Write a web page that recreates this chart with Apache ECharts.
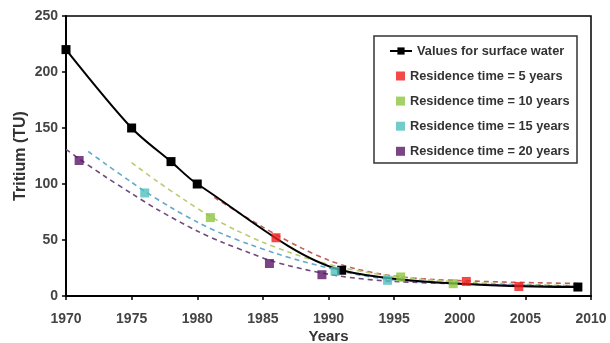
<!DOCTYPE html>
<html><head><meta charset="utf-8">
<script src="https://cdn.jsdelivr.net/npm/echarts@6/dist/echarts.min.js"></script>
<style>html,body{margin:0;padding:0;background:#fff}#c{width:610px;height:343px}</style>
</head><body><div id="c"></div>
<script>
// ---- data ----
const surfaceYears = [1970, 1975, 1978, 1980, 1991, 2009];
const surfaceValues = [220, 150, 120, 100, 23, 8];

const rt5Years = [1986, 2000.5, 2004.5];
const rt5Values = [52, 13, 8.5];
const rt10Years = [1981, 1995.5, 1999.5];
const rt10Values = [70, 17, 11];
const rt15Years = [1976, 1990.5, 1994.5];
const rt15Values = [92, 22, 14];
const rt20Years = [1971, 1985.5, 1989.5];
const rt20Values = [121, 29, 19];

// model curves (dashed)
const rt5CurveYears = [1981.3, 1983, 1985, 1986, 1988, 1990, 1992, 1994, 1996, 1998, 2000, 2003, 2006, 2009];
const rt5CurveValues = [88, 75.5, 61.5, 54.8, 42.5, 32, 24.5, 19.5, 16.5, 14.8, 13.7, 12.6, 11.8, 11.2];
const rt10CurveYears = [1975, 1977, 1979, 1981, 1983, 1985, 1987, 1989, 1991, 1993, 1995, 1998, 2001, 2005, 2009];
const rt10CurveValues = [119, 102, 86, 71, 58.5, 48, 39, 31.5, 25.5, 21, 17.5, 14, 12, 10.3, 9.2];
const rt15CurveYears = [1971.7, 1973, 1975, 1976, 1978, 1980, 1982, 1984, 1986, 1988, 1990.5, 1992, 1994.5, 1997, 2000, 2005, 2009];
const rt15CurveValues = [129, 118, 101.5, 93.5, 79, 66, 55, 46, 38, 31, 23.5, 19.5, 15, 12.6, 11, 9.6, 8.7];
const rt20CurveYears = [1970, 1971, 1973, 1975, 1977, 1980, 1982, 1984, 1985.5, 1987, 1989.5, 1992, 1995, 2000, 2005, 2009];
const rt20CurveValues = [131, 122.5, 106.5, 91.5, 77, 58, 47.5, 38.5, 32, 27, 20.5, 16, 13, 10.8, 9.5, 8.7];

const legendNames = ['Values for surface water', 'Residence time = 5 years', 'Residence time = 10 years',
  'Residence time = 15 years', 'Residence time = 20 years'];
const xTicks = { min: 1970, max: 2010, interval: 5 };
const yTicks = { min: 0, max: 250, interval: 50 };

// ---- build ----
const zip = (xs, ys) => xs.map((x, i) => [x, ys[i]]);
const colors = ['#000000', '#f01c1c', '#8cc63f', '#4fc0bd', '#5a1569'];
const dashColors = ['#c0605a', '#b9cc70', '#62a9cf', '#6e4a7e'];
const font = 'Liberation Sans, Arial, sans-serif';

const chart = echarts.init(document.getElementById('c'), null, { renderer: 'canvas' });
const curveSets = [
  [rt5CurveYears, rt5CurveValues], [rt10CurveYears, rt10CurveValues],
  [rt15CurveYears, rt15CurveValues], [rt20CurveYears, rt20CurveValues]
];
const pointSets = [[rt5Years, rt5Values], [rt10Years, rt10Values], [rt15Years, rt15Values], [rt20Years, rt20Values]];

const series = [];
curveSets.forEach((s, i) => {
  series.push({
    name: 'curve' + i, type: 'line', data: zip(s[0], s[1]), smooth: 0.3, symbol: 'none',
    lineStyle: { color: dashColors[i], width: 1.6, type: [5, 4] }, z: 2, silent: true
  });
});
series.push({
  name: legendNames[0], type: 'line', data: zip(surfaceYears, surfaceValues), smooth: 0.3,
  symbol: 'rect', symbolSize: 9, itemStyle: { color: '#000' },
  lineStyle: { color: '#000', width: 2 }, z: 4
});
pointSets.forEach((s, i) => {
  series.push({
    name: legendNames[i + 1], type: 'scatter', data: zip(s[0], s[1]), symbol: 'rect', symbolSize: 9,
    itemStyle: { color: colors[i + 1] }, z: 5
  });
});

const legendText = { fontFamily: font, fontSize: 12.8, fontWeight: 'bold', color: '#333' };
const tickText = { fontFamily: font, fontSize: 14, fontWeight: 'bold', color: '#444' };
chart.setOption({
  animation: false,
  backgroundColor: '#fff',
  grid: { left: 66, right: 19, top: 16, bottom: 47, outerBoundsMode: 'none', containLabel: false,
    show: true, borderColor: '#000', borderWidth: 1.5, backgroundColor: 'transparent' },
  xAxis: {
    type: 'value', min: xTicks.min, max: xTicks.max, interval: xTicks.interval,
    name: 'Years', nameLocation: 'middle', nameGap: 33, nameMoveOverlap: false,
    nameTextStyle: { fontFamily: font, fontSize: 15, fontWeight: 'bold', color: '#333' },
    axisLine: { lineStyle: { color: '#000', width: 2 } },
    axisTick: { show: true, inside: false, length: 4, lineStyle: { color: '#000', width: 1.5 } },
    axisLabel: Object.assign({ margin: 16, formatter: v => String(v) }, tickText),
    splitLine: { show: false }
  },
  yAxis: {
    type: 'value', min: yTicks.min, max: yTicks.max, interval: yTicks.interval,
    name: 'Tritium (TU)', nameLocation: 'middle', nameGap: 37, nameRotate: 90, nameMoveOverlap: false,
    nameTextStyle: { fontFamily: font, fontSize: 16, fontWeight: 'bold', color: '#333' },
    axisLine: { show: true, lineStyle: { color: '#000', width: 2 } },
    axisTick: { show: true, inside: false, length: 4, lineStyle: { color: '#000', width: 1.5 } },
    axisLabel: Object.assign({ margin: 8, formatter: v => String(v) }, tickText),
    splitLine: { show: false }
  },
  legend: [
    {
      data: [legendNames[0]], left: 384, top: 39.5, orient: 'vertical',
      itemWidth: 22, itemHeight: 9, itemGap: 6, textStyle: legendText, selectedMode: false
    },
    {
      data: legendNames.slice(1), left: 391, top: 64.5, orient: 'vertical',
      itemWidth: 9, itemHeight: 9, itemGap: 12.1, textStyle: legendText, selectedMode: false,
      icon: 'rect'
    }
  ],
  graphic: [{
    type: 'rect', shape: { x: 374, y: 36, width: 203, height: 127 },
    style: { fill: null, stroke: '#333', lineWidth: 1.5 }, z: 10, silent: true
  }],
  series: series
});
</script></body></html>
